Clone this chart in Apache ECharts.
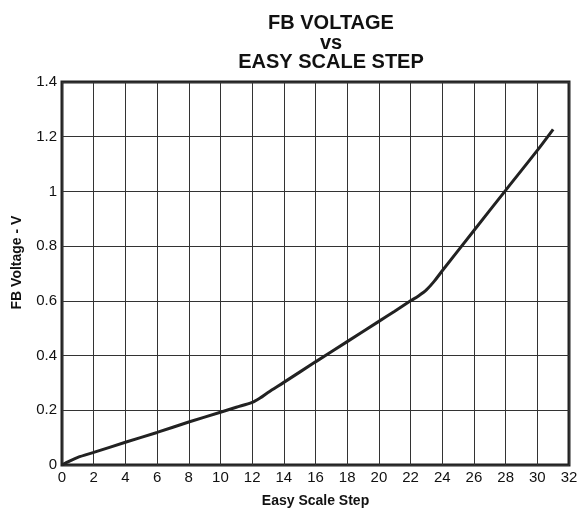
<!DOCTYPE html>
<html>
<head>
<meta charset="utf-8">
<script src="https://cdn.jsdelivr.net/npm/echarts@6/dist/echarts.min.js"></script>
<style>html,body{margin:0;padding:0;background:#fff}#c{width:585px;height:514px}</style>
</head>
<body>
<div id="c"></div>
<script>
const titleText = "FB VOLTAGE\nvs\nEASY SCALE STEP";
const xName = "Easy Scale Step";
const yName = "FB Voltage - V";
const steps =   [0, 0.5, 1, 2, 4, 6, 8, 10, 11, 12, 12.5, 13, 14, 16, 18, 20, 21, 22, 22.5, 23, 23.5, 24, 26, 28, 30, 31];
const voltage = [0, 0.015, 0.028, 0.046, 0.083, 0.119, 0.157, 0.193, 0.211, 0.229, 0.245, 0.265, 0.302, 0.377, 0.451, 0.525, 0.562, 0.600, 0.618, 0.640, 0.672, 0.710, 0.857, 1.004, 1.150, 1.227];

const chart = echarts.init(document.getElementById('c'), null, {renderer: 'canvas'});
chart.setOption({
  animation: false,
  backgroundColor: '#fff',
  title: {
    text: titleText,
    left: 326, top: 9, textAlign: 'center',
    textStyle: {fontFamily: 'Liberation Sans', fontWeight: 'bold', fontSize: 20, lineHeight: 19.5, color: '#111'}
  },
  grid: {left: 62, right: 16, top: 82, bottom: 49, show: true, borderColor: '#222', borderWidth: 3, backgroundColor: 'transparent'},
  xAxis: {
    type: 'value', min: 0, max: 32, interval: 2,
    name: xName, nameLocation: 'middle', nameGap: 29,
    nameTextStyle: {fontFamily: 'Liberation Sans', fontWeight: 'bold', fontSize: 14, color: '#111'},
    axisLine: {show: false}, axisTick: {show: false},
    axisLabel: {fontFamily: 'Liberation Sans', fontSize: 15, color: '#111', margin: 5, showMaxLabel: true, showMinLabel: true},
    splitLine: {show: true, lineStyle: {color: '#333', width: 1}}
  },
  yAxis: {
    type: 'value', min: 0, max: 1.4, interval: 0.2,
    name: yName, nameLocation: 'middle', nameGap: 38, nameRotate: 90,
    nameTextStyle: {fontFamily: 'Liberation Sans', fontWeight: 'bold', fontSize: 14, color: '#111', padding: [0, 0, 0, 22]},
    axisLine: {show: false}, axisTick: {show: false},
    axisLabel: {fontFamily: 'Liberation Sans', fontSize: 15, color: '#111', margin: 5},
    splitLine: {show: true, lineStyle: {color: '#333', width: 1}}
  },
  series: [{
    type: 'line',
    data: steps.map((s, i) => [s, voltage[i]]),
    showSymbol: false, smooth: 0.3,
    lineStyle: {color: '#222', width: 3},
    z: 5
  }]
});
</script>
</body>
</html>
